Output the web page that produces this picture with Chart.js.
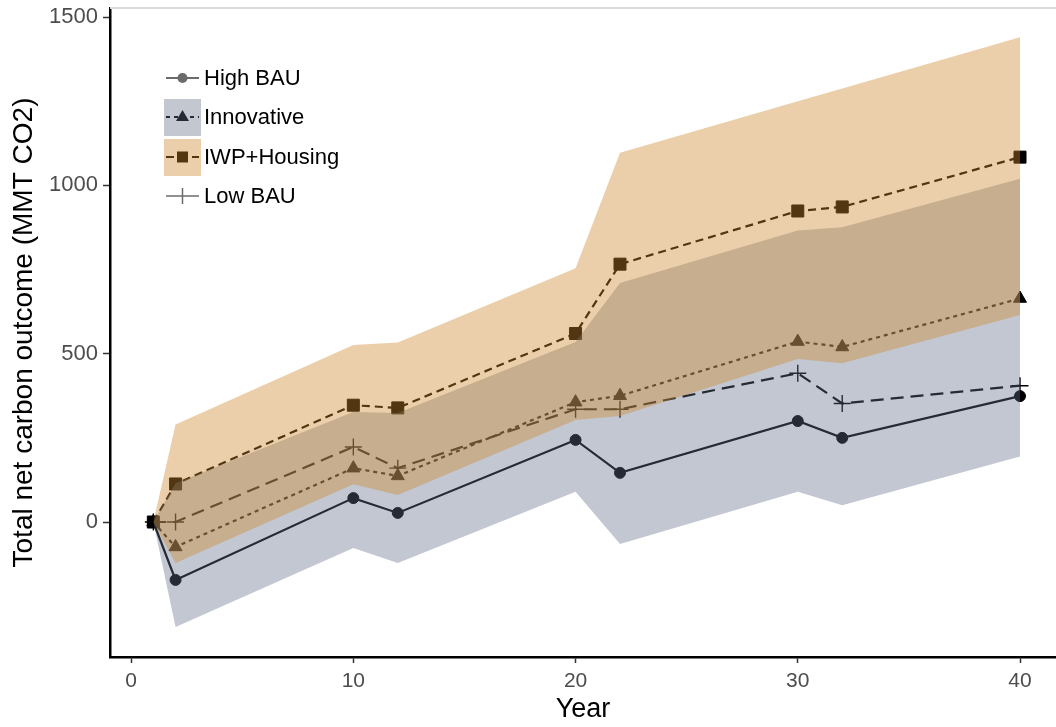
<!DOCTYPE html>
<html>
<head>
<meta charset="utf-8">
<script src="https://cdn.jsdelivr.net/npm/chart.js@4.4.1/dist/chart.umd.min.js"></script>
<style>
html, body { margin: 0; padding: 0; background: #fff; }
</style>
</head>
<body>
<canvas id="myChart" width="1056" height="727"></canvas>
<script>
// Years on the x axis
var years = [1, 2, 10, 12, 20, 22, 30, 32, 40];

// Scenario lines (MMT CO2)
var highBAU    = [0, -172, 71, 27, 244, 146, 300, 250, 374];
var innovative = [0, -74, 160, 137, 356, 375, 536, 520, 664];
var iwpHousing = [0, 113, 347, 339, 560, 766, 924, 936, 1084];
var lowBAU     = [0, 0, 223, 160, 335, 335, 442, 352, 405];

// Uncertainty ribbons
var innovLow  = [0, -312, -77, -122, 90, -65, 90, 50, 195];
var innovHigh = [0, 115, 327, 324, 535, 710, 866, 876, 1020];
var iwpLow    = [0, -122, 112, 80, 303, 315, 484, 472, 615];
var iwpHigh   = [0, 290, 526, 533, 754, 1097, 1250, 1288, 1440];

var xTicks = [0, 10, 20, 30, 40];
var yTicks = [0, 500, 1000, 1500];
var legendLabels = ['High BAU', 'Innovative', 'IWP+Housing', 'Low BAU'];

var FONT = '"Liberation Sans", Arial, Helvetica, sans-serif';

function pts(vals) {
    return years.map(function(x, i) { return { x: x, y: vals[i] }; });
}

var greyFill = 'rgba(99, 109, 138, 0.385)';
var tanFill = 'rgba(205, 135, 42, 0.4)';
var none = 'rgba(0,0,0,0)';

function ribbonEdge(vals, order, fill, target) {
    return {
        data: pts(vals),
        borderColor: none,
        borderWidth: 1,
        pointRadius: 0,
        backgroundColor: fill || none,
        fill: target === undefined ? false : target,
        order: order
    };
}

function line(vals, style, dash, radius, bw) {
    return {
        data: pts(vals),
        borderColor: '#000',
        borderWidth: 2.2,
        borderDash: dash,
        pointStyle: style,
        pointRadius: radius,
        pointBackgroundColor: '#000',
        pointBorderColor: '#000',
        pointBorderWidth: bw,
        fill: false,
        order: 2
    };
}

// legend in the top left corner, drawn like ggplot keys
var legendPlugin = {
    id: 'ggLegend',
    afterDraw: function(chart) {
        var c = chart.ctx;
        var rows = [78, 117, 157, 196];
        c.save();
        c.fillStyle = '#c3c8d0';
        c.fillRect(164, 99, 37, 37);
        c.fillStyle = '#ebcfaa';
        c.fillRect(164, 139, 37, 37);

        // High BAU
        c.strokeStyle = '#6b6b6b'; c.fillStyle = '#6b6b6b'; c.lineWidth = 2;
        c.beginPath(); c.moveTo(166, rows[0]); c.lineTo(199, rows[0]); c.stroke();
        c.beginPath(); c.arc(182.5, rows[0], 5, 0, Math.PI * 2); c.fill();

        // Innovative
        c.strokeStyle = '#262a35'; c.fillStyle = '#262a35';
        c.setLineDash([4, 4]);
        c.beginPath(); c.moveTo(166, rows[1]); c.lineTo(199, rows[1]); c.stroke();
        c.setLineDash([]);
        c.beginPath(); c.moveTo(182.5, rows[1] - 7); c.lineTo(189, rows[1] + 4); c.lineTo(176, rows[1] + 4); c.closePath(); c.fill();

        // IWP+Housing
        c.strokeStyle = '#52360f'; c.fillStyle = '#52360f';
        c.setLineDash([8, 5]);
        c.beginPath(); c.moveTo(166, rows[2]); c.lineTo(199, rows[2]); c.stroke();
        c.setLineDash([]);
        c.fillRect(177, rows[2] - 5.5, 11, 11);

        // Low BAU
        c.strokeStyle = '#6b6b6b'; c.lineWidth = 1.5;
        c.beginPath(); c.moveTo(166, rows[3]); c.lineTo(199, rows[3]); c.stroke();
        c.beginPath(); c.moveTo(182.5, rows[3] - 8); c.lineTo(182.5, rows[3] + 8); c.stroke();

        c.fillStyle = '#000';
        c.font = '22px ' + FONT;
        c.textBaseline = 'middle';
        c.textAlign = 'left';
        legendLabels.forEach(function(t, i) { c.fillText(t, 204, rows[i] + 1); });
        c.restore();
    }
};

// light grey line along the top of the panel
var topBorder = {
    id: 'topBorder',
    afterDatasetsDraw: function(chart) {
        var a = chart.chartArea, c = chart.ctx;
        c.save();
        c.strokeStyle = '#dcdcdc';
        c.lineWidth = 2;
        c.beginPath(); c.moveTo(a.left, a.top); c.lineTo(a.right, a.top); c.stroke();
        c.restore();
    }
};

var ctx = document.getElementById('myChart').getContext('2d');
var chart = new Chart(ctx, {
    type: 'line',
    data: {
        datasets: [
            ribbonEdge(iwpLow, 0),                       // 0
            ribbonEdge(iwpHigh, 0, tanFill, 0),          // 1
            ribbonEdge(innovLow, 1),                     // 2
            ribbonEdge(innovHigh, 1, greyFill, 2),       // 3
            line(highBAU, 'circle', [], 5.5, 1),
            line(innovative, 'triangle', [4, 4], 7.5, 1),
            line(iwpHousing, 'rect', [8, 5], 8.5, 1),
            line(lowBAU, 'cross', [13, 7], 8.5, 1.4)
        ]
    },
    options: {
        responsive: false,
        animation: false,
        devicePixelRatio: 1,
        layout: { autoPadding: false, padding: { top: 8, right: 0, bottom: 0, left: 0 } },
        plugins: {
            legend: { display: false },
            tooltip: { enabled: false }
        },
        scales: {
            x: {
                type: 'linear',
                min: -0.95,
                max: 41.62,
                afterBuildTicks: function(s) { s.ticks = xTicks.map(function(v) { return { value: v }; }); },
                afterFit: function(s) { s.height = 70; s.paddingLeft = 0; s.paddingRight = 0; },
                border: { display: true, color: '#000', width: 2.5 },
                grid: { drawOnChartArea: false, drawTicks: true, tickLength: 6, tickColor: '#333', tickWidth: 1.5 },
                ticks: { color: '#4d4d4d', font: { family: FONT, size: 21 }, padding: 6, maxRotation: 0 },
                title: { display: true, text: 'Year', color: '#000', font: { family: FONT, size: 27 }, padding: { top: 0, bottom: 1 } }
            },
            y: {
                type: 'linear',
                min: -401,
                max: 1527,
                afterBuildTicks: function(s) { s.ticks = yTicks.map(function(v) { return { value: v }; }); },
                afterFit: function(s) { s.width = 110; s.paddingTop = 0; s.paddingBottom = 0; },
                border: { display: true, color: '#000', width: 2.5 },
                grid: { drawOnChartArea: false, drawTicks: true, tickLength: 7, tickColor: '#333', tickWidth: 1.5 },
                ticks: {
                    color: '#4d4d4d', font: { family: FONT, size: 22 }, padding: 5,
                    callback: function(value) { return String(value); }
                },
                title: { display: true, text: 'Total net carbon outcome (MMT CO2)', color: '#000', font: { family: FONT, size: 28 }, padding: { top: 7, bottom: 0 } }
            }
        }
    },
    plugins: [topBorder, legendPlugin]
});
</script>
</body>
</html>
